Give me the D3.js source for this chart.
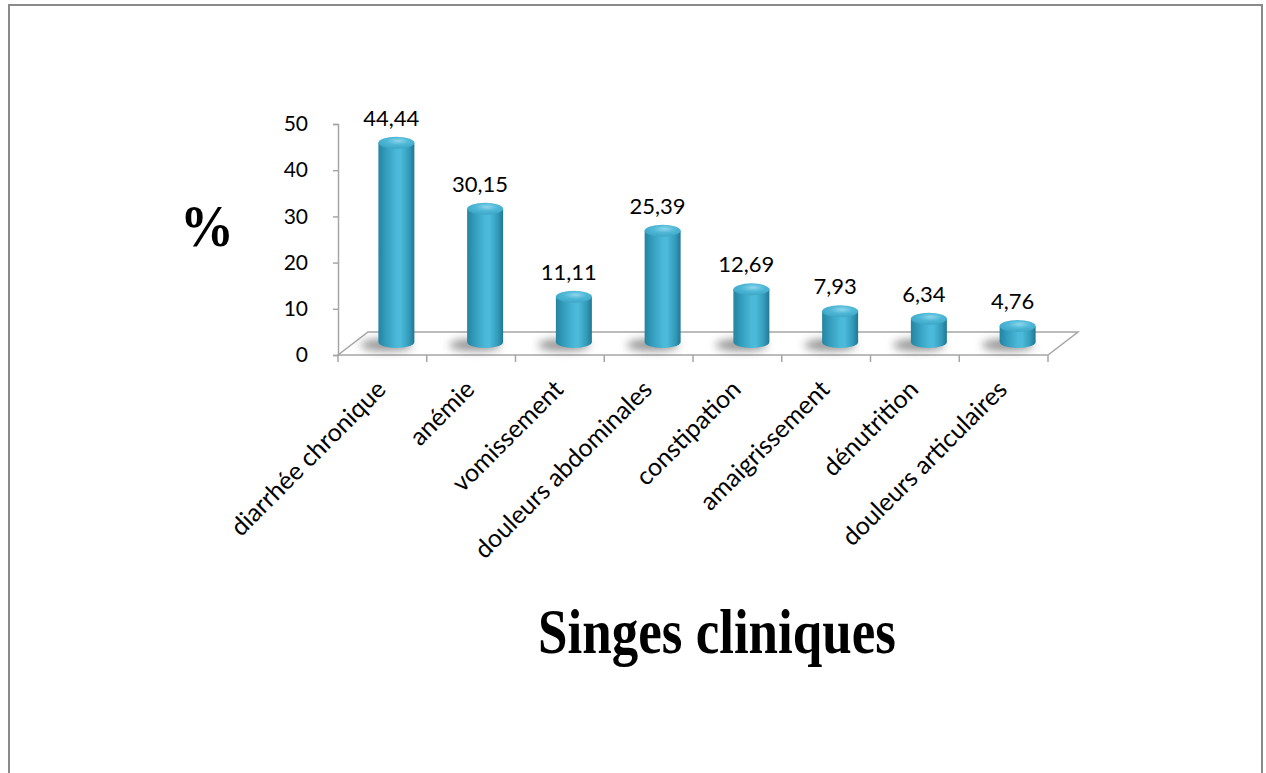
<!DOCTYPE html>
<html>
<head>
<meta charset="utf-8">
<script src="https://cdn.jsdelivr.net/npm/d3@7"></script>
<style>
  html, body { margin: 0; padding: 0; background: #fff; }
  svg { display: block; }
</style>
</head>
<body>
<svg id="chart" width="1266" height="773"></svg>
<script>
// Clinical signs, percentage of cases
const categories = ["diarrhée chronique", "anémie", "vomissement", "douleurs abdominales",
                    "constipation", "amaigrissement", "dénutrition", "douleurs articulaires"];
const values = [44.44, 30.15, 11.11, 25.39, 12.69, 7.93, 6.34, 4.76];
const yTicks = [0, 10, 20, 30, 40, 50];
const yTitle = "%";
const xTitle = "Singes cliniques";

const svg = d3.select("#chart");
const defs = svg.append("defs");

// frame
svg.append("rect")
  .attr("x", 9).attr("y", 5).attr("width", 1253).attr("height", 800)
  .attr("fill", "none").attr("stroke", "#8a8a8a").attr("stroke-width", 2);

// scales
const x = d3.scaleBand().domain(categories).range([338, 1048]);
const y = d3.scaleLinear().domain([0, 50]).range([355, 124]);
// depth of the 3D floor
const depthX = 30, depthY = -23;
// bars stand in the middle of the floor depth
const yBar = d3.scaleLinear().domain([0, 50]).range([348, 117]);
const baseY = 342;
const rx = 18, ry = 6;
const cx = c => x(c) + x.bandwidth() / 2 + 14;

// gradients for cylinder body and cap
const bodyGrad = defs.append("linearGradient").attr("id", "cyl").attr("x1", 0).attr("x2", 1).attr("y1", 0).attr("y2", 0);
[[0, "#24849f"], [0.18, "#3199b9"], [0.5, "#4ab8d8"], [0.62, "#4cbada"], [0.85, "#339bba"], [1, "#217792"]]
  .forEach(([o, c]) => bodyGrad.append("stop").attr("offset", o).attr("stop-color", c));
const capGrad = defs.append("radialGradient").attr("id", "cap").attr("cx", 0.55).attr("cy", 0.35).attr("r", 0.7);
[[0, "#8dd6ec"], [0.45, "#4fb8d7"], [1, "#3aa3c3"]]
  .forEach(([o, c]) => capGrad.append("stop").attr("offset", o).attr("stop-color", c));
const blur = defs.append("filter").attr("id", "shadowBlur").attr("x", -0.5).attr("y", -1).attr("width", 2).attr("height", 3);
blur.append("feGaussianBlur").attr("stdDeviation", 4);

// floor
const [fx0, fx1] = x.range();
const fy = y(0);
svg.append("path")
  .attr("d", `M${fx0},${fy} L${fx1},${fy} L${fx1 + depthX},${fy + depthY} L${fx0 + depthX},${fy + depthY} Z`)
  .attr("fill", "#fff").attr("stroke", "#a6a6a6").attr("stroke-width", 1.5);

// category ticks
const catTicks = categories.map(c => x(c)).concat([fx1]);
svg.append("g").selectAll("line").data(catTicks).join("line")
  .attr("x1", d => d).attr("x2", d => d).attr("y1", fy).attr("y2", fy + 7)
  .attr("stroke", "#a6a6a6").attr("stroke-width", 1.5);

// value axis
const yAxis = svg.append("g").attr("transform", `translate(${fx0},0)`)
  .call(d3.axisLeft(y).tickValues(yTicks).tickSize(5).tickPadding(25).tickFormat(d3.format("d")));
yAxis.select(".domain").attr("stroke", "#a6a6a6").attr("stroke-width", 1.5);
yAxis.selectAll(".tick line").attr("stroke", "#a6a6a6").attr("stroke-width", 1.5);
yAxis.selectAll(".tick text").attr("fill", "#000").attr("font-family", "Lato, sans-serif").attr("font-size", 21);

// shadows on the floor
svg.append("g").selectAll("ellipse").data(categories).join("ellipse")
  .attr("cx", c => cx(c) - 10).attr("cy", baseY + 3)
  .attr("rx", 26).attr("ry", 6)
  .attr("fill", "#3a3a3a").attr("opacity", 0.55).attr("filter", "url(#shadowBlur)");

// cylinders
const rows = categories.map((c, i) => ({ c, v: values[i] }));
const bars = svg.append("g").selectAll("g").data(rows).join("g");
bars.append("path")
  .attr("d", d => {
    const x0 = cx(d.c) - rx, x1 = cx(d.c) + rx, t = yBar(d.v);
    return `M${x0},${t} L${x0},${baseY} A${rx},${ry} 0 0 0 ${x1},${baseY} L${x1},${t} Z`;
  })
  .attr("fill", "url(#cyl)");
bars.append("ellipse")
  .attr("cx", d => cx(d.c)).attr("cy", d => yBar(d.v))
  .attr("rx", rx).attr("ry", ry)
  .attr("fill", "url(#cap)");

// value labels
const fmt = v => d3.format(".2f")(v).replace(".", ",");
svg.append("g").selectAll("text").data(rows).join("text")
  .attr("x", d => cx(d.c) - 5).attr("y", d => yBar(d.v) - 17)
  .attr("text-anchor", "middle")
  .attr("font-family", "Lato, sans-serif").attr("font-size", 22).attr("fill", "#000")
  .text(d => fmt(d.v));

// category labels
svg.append("g").selectAll("text").data(categories).join("text")
  .attr("transform", c => `translate(${x(c) + x.bandwidth() / 2 + 5},391) rotate(-45)`)
  .attr("text-anchor", "end")
  .attr("font-family", "Lato, sans-serif").attr("font-size", 25).attr("fill", "#000")
  .text(c => c);

// axis titles
svg.append("text")
  .attr("transform", "translate(207,246) scale(1,1.08)")
  .attr("text-anchor", "middle")
  .attr("font-family", "'Liberation Serif', 'Times New Roman', serif").attr("font-weight", "bold")
  .attr("font-size", 54).attr("fill", "#000")
  .text(yTitle);
svg.append("text")
  .attr("transform", "translate(717,653) scale(1,1.18)")
  .attr("text-anchor", "middle")
  .attr("font-family", "'Liberation Serif', 'Times New Roman', serif").attr("font-weight", "bold")
  .attr("font-size", 53).attr("fill", "#000")
  .text(xTitle);
</script>
</body>
</html>
